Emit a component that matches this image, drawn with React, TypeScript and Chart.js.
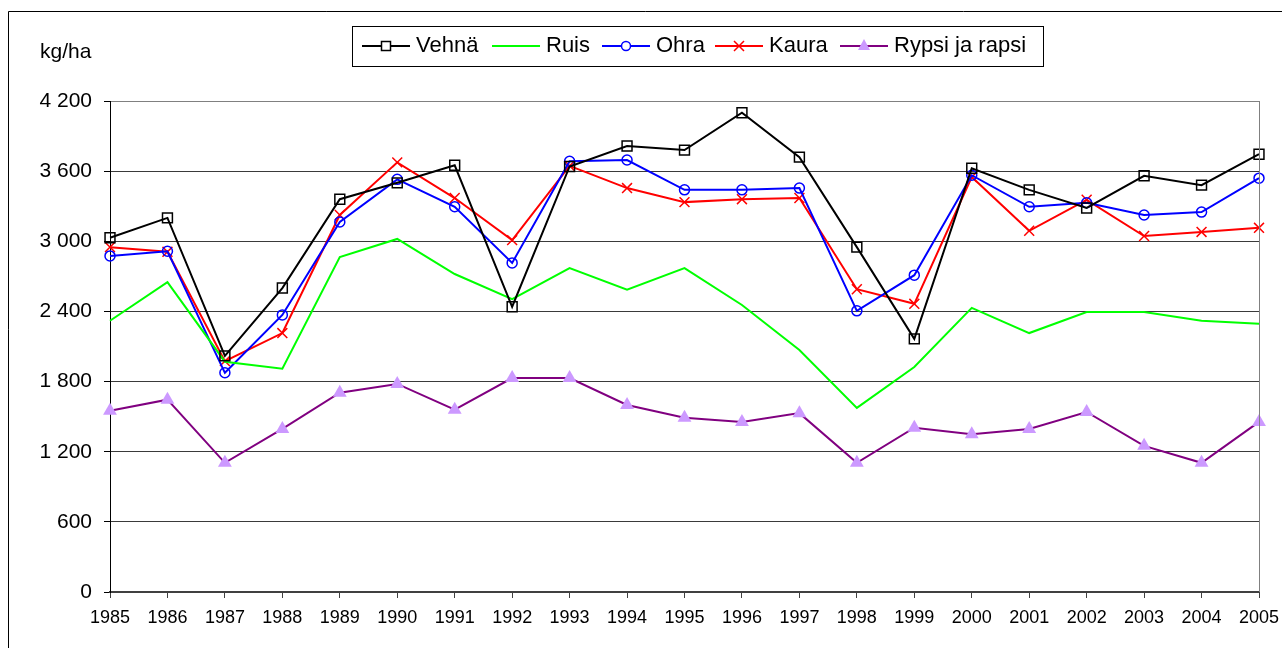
import React, { useEffect, useRef } from "react";
import { Chart, registerables } from "chart.js";

Chart.register(...registerables);

const years = ["1985","1986","1987","1988","1989","1990","1991","1992","1993","1994","1995","1996","1997","1998","1999","2000","2001","2002","2003","2004","2005"];
const vehna = [3030, 3200, 2020, 2600, 3360, 3500, 3650, 2440, 3640, 3815, 3780, 4100, 3720, 2950, 2165, 3625, 3440, 3285, 3560, 3480, 3745];
const ruis = [2320, 2650, 1970, 1910, 2865, 3020, 2720, 2505, 2770, 2585, 2770, 2455, 2070, 1575, 1925, 2430, 2215, 2395, 2395, 2320, 2295];
const ohra = [2875, 2915, 1875, 2370, 3165, 3530, 3295, 2815, 3685, 3695, 3440, 3440, 3455, 2405, 2710, 3565, 3295, 3330, 3225, 3250, 3540];
const kaura = [2950, 2910, 1975, 2215, 3225, 3675, 3370, 3010, 3645, 3455, 3335, 3360, 3370, 2590, 2465, 3550, 3090, 3355, 3045, 3080, 3115];
const rypsi = [1550, 1645, 1105, 1395, 1705, 1780, 1560, 1830, 1830, 1600, 1490, 1455, 1530, 1105, 1405, 1350, 1395, 1540, 1250, 1105, 1455];
const seriesNames = ["Vehnä", "Ruis", "Ohra", "Kaura", "Rypsi ja rapsi"];
const yTicks = [0, 600, 1200, 1800, 2400, 3000, 3600, 4200];

const FONT = "'Liberation Sans', Arial, sans-serif";

function drawMarker(ctx: CanvasRenderingContext2D, style: string, x: number, y: number) {
  ctx.save();
  if (style === "rect") {
    ctx.strokeStyle = "#000";
    ctx.fillStyle = "#fff";
    ctx.lineWidth = 1.5;
    ctx.fillRect(x - 4.5, y - 4.5, 9, 9);
    ctx.strokeRect(x - 4.5, y - 4.5, 9, 9);
  } else if (style === "circle") {
    ctx.strokeStyle = "#0000ff";
    ctx.lineWidth = 1.5;
    ctx.beginPath();
    ctx.arc(x, y, 4.5, 0, Math.PI * 2);
    ctx.fillStyle = "#fff";
    ctx.fill();
    ctx.stroke();
  } else if (style === "crossRot") {
    ctx.strokeStyle = "#ff0000";
    ctx.lineWidth = 1.5;
    ctx.beginPath();
    ctx.moveTo(x - 5, y - 5);
    ctx.lineTo(x + 5, y + 5);
    ctx.moveTo(x + 5, y - 5);
    ctx.lineTo(x - 5, y + 5);
    ctx.stroke();
  } else if (style === "triangle") {
    ctx.fillStyle = "#cc99ff";
    ctx.beginPath();
    ctx.moveTo(x, y - 7);
    ctx.lineTo(x + 6, y + 4);
    ctx.lineTo(x - 6, y + 4);
    ctx.closePath();
    ctx.fill();
  }
  ctx.restore();
}

const frameLegendPlugin = {
  id: "frameLegend",
  afterDraw(chart: any) {
    const ctx: CanvasRenderingContext2D = chart.ctx;
    const ca = chart.chartArea;
    ctx.save();
    ctx.strokeStyle = "#000";
    ctx.lineWidth = 1;
    ctx.beginPath();
    ctx.moveTo(8.5, 648);
    ctx.lineTo(8.5, 11.5);
    ctx.lineTo(1282, 11.5);
    ctx.stroke();
    ctx.strokeStyle = "#808080";
    ctx.beginPath();
    ctx.moveTo(Math.round(ca.right) + 0.5, ca.top);
    ctx.lineTo(Math.round(ca.right) + 0.5, ca.bottom);
    ctx.stroke();
    ctx.fillStyle = "#000";
    ctx.font = `21px ${FONT}`;
    ctx.textBaseline = "middle";
    ctx.textAlign = "left";
    ctx.fillText("kg/ha", 40, 52);
    ctx.strokeStyle = "#000";
    ctx.lineWidth = 1;
    ctx.strokeRect(352.5, 26.5, 691, 40);
    const items = [
      { color: "#000000", marker: "rect", x: 362 },
      { color: "#00ff00", marker: "", x: 492 },
      { color: "#0000ff", marker: "circle", x: 602 },
      { color: "#ff0000", marker: "crossRot", x: 715 },
      { color: "#800080", marker: "triangle", x: 840 },
    ];
    const ly = 46;
    items.forEach((it, i) => {
      ctx.strokeStyle = it.color;
      ctx.lineWidth = 2;
      ctx.beginPath();
      ctx.moveTo(it.x, ly);
      ctx.lineTo(it.x + 48, ly);
      ctx.stroke();
      if (it.marker) drawMarker(ctx, it.marker, it.x + 24, ly);
      ctx.fillStyle = "#000";
      ctx.font = `22px ${FONT}`;
      ctx.textBaseline = "middle";
      ctx.fillText(seriesNames[i], it.x + 54, ly);
    });
    ctx.restore();
  },
};

export default function App() {
  const ref = useRef<HTMLCanvasElement | null>(null);
  useEffect(() => {
    document.body.style.margin = "0";
    if (!ref.current) return;
    const chart = new Chart(ref.current, {
      type: "line",
      data: {
        labels: years,
        datasets: [
          {
            label: seriesNames[0], data: vehna, borderColor: "#000000", backgroundColor: "#ffffff",
            borderWidth: 2, pointStyle: "rect", pointRadius: 7, pointBorderWidth: 1.5,
            pointBorderColor: "#000", pointBackgroundColor: "rgba(255,255,255,0)", tension: 0,
          },
          {
            label: seriesNames[1], data: ruis, borderColor: "#00ff00", borderWidth: 2,
            pointRadius: 0, tension: 0,
          },
          {
            label: seriesNames[2], data: ohra, borderColor: "#0000ff", borderWidth: 2,
            pointStyle: "circle", pointRadius: 5, pointBorderWidth: 1.5,
            pointBorderColor: "#0000ff", pointBackgroundColor: "rgba(255,255,255,0)", tension: 0,
          },
          {
            label: seriesNames[3], data: kaura, borderColor: "#ff0000", borderWidth: 2,
            pointStyle: "crossRot", pointRadius: 7, pointBorderWidth: 1.5,
            pointBorderColor: "#ff0000", tension: 0,
          },
          {
            label: seriesNames[4], data: rypsi, borderColor: "#800080", borderWidth: 2,
            pointStyle: "triangle", pointRadius: 8, pointBorderWidth: 0,
            pointBorderColor: "#cc99ff", pointBackgroundColor: "#cc99ff", tension: 0,
          },
        ],
      },
      options: {
        responsive: false,
        animation: false,
        layout: { padding: { left: 0, top: 101, right: 23, bottom: 0 } },
        plugins: {
          legend: { display: false },
          tooltip: { enabled: false },
        },
        scales: {
          x: {
            type: "category",
            offset: false,
            afterFit: (s: any) => { s.height = 56; s.paddingLeft = 0; s.paddingRight = 0; },
            grid: {
              drawOnChartArea: false,
              drawTicks: true,
              tickLength: 6,
              color: "#404040",
            },
            border: { display: true, color: "#404040", width: 2 },
            ticks: {
              autoSkip: false,
              maxRotation: 0,
              padding: 9,
              color: "#000",
              font: { family: FONT, size: 18 },
            },
          },
          y: {
            min: 0,
            max: 4200,
            afterFit: (s: any) => { s.width = 110; s.paddingTop = 0; s.paddingBottom = 0; },
            afterBuildTicks: (s: any) => { s.ticks = yTicks.map((v) => ({ value: v })); },
            grid: {
              color: (c: any) => (c.tick && c.tick.value === 4200 ? "#808080" : "#3a3a3a"),
              tickColor: "#000",
              tickLength: 6,
              drawTicks: true,
            },
            border: { display: true, color: "#000", width: 1 },
            ticks: {
              padding: 12,
              color: "#000",
              font: { family: FONT, size: 21 },
              callback: (v: any) => String(v).replace(/\B(?=(\d{3})+(?!\d))/g, " "),
            },
          },
        },
      },
      plugins: [frameLegendPlugin],
    });
    return () => chart.destroy();
  }, []);
  return <canvas ref={ref} width={1282} height={648} style={{ display: "block" }} />;
}
